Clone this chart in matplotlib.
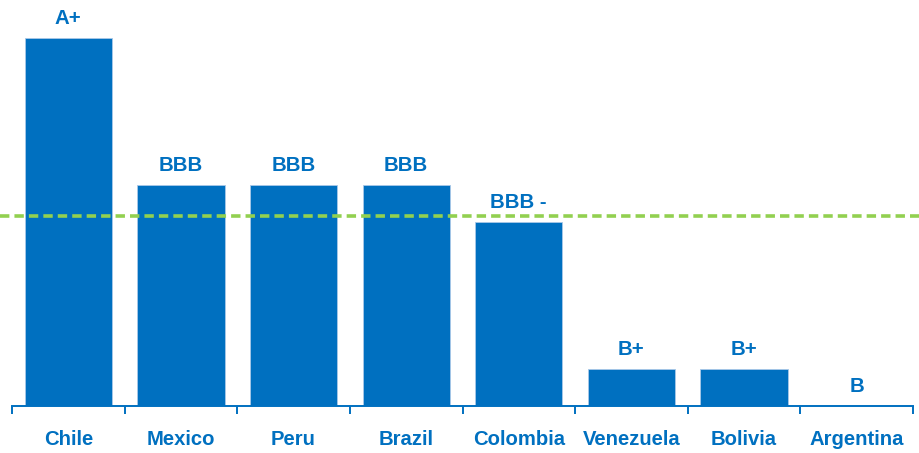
import matplotlib
matplotlib.use("Agg")
import matplotlib.pyplot as plt

countries = ["Chile", "Mexico", "Peru", "Brazil", "Colombia", "Venezuela", "Bolivia", "Argentina"]
ratings = ["A+", "BBB", "BBB", "BBB", "BBB -", "B+", "B+", "B"]
# notch scale: B = 0 ... A+ = 10
scores = [10, 6, 6, 6, 5, 1, 1, 0]
investment_grade = 5.15

blue = "#0070C0"
green = "#92D050"

plt.rcParams["font.family"] = ["Liberation Sans", "DejaVu Sans"]

fig = plt.figure(figsize=(9.19, 4.53), dpi=100)
ax = fig.add_axes([12 / 919, 47.3 / 453, 901 / 919, 405.7 / 453])

x = list(range(len(countries)))
ax.bar(x, scores, width=0.775, color=blue, edgecolor="#a9c8e8", linewidth=0.6, zorder=2)

ax.set_xlim(-0.5, len(countries) - 0.5)
ax.set_ylim(0, 405.7 / 36.8)

for xi, s, r in zip(x, scores, ratings):
    ax.annotate(r, (xi, s), xytext=(0, 9.7), textcoords="offset points",
                ha="center", va="baseline", color=blue, fontsize=14.7,
                fontweight="bold", zorder=4)

ax.axhline(investment_grade, xmin=-12 / 901, xmax=1 + 6 / 901, color=green,
           linewidth=2.6, dashes=(2.6, 1.4), clip_on=False, zorder=3)

for side in ["top", "right", "left"]:
    ax.spines[side].set_visible(False)
ax.spines["bottom"].set_color(blue)
ax.spines["bottom"].set_linewidth(1.4)

ax.set_yticks([])
ax.set_xticks(x)
ax.set_xticklabels(countries, fontsize=14.6, fontweight="bold", color=blue)
ax.tick_params(axis="x", which="major", length=0, pad=17.5)
ax.set_xticks([i - 0.5 for i in range(len(countries) + 1)], minor=True)
ax.tick_params(axis="x", which="minor", length=6, width=1.4, color=blue)

fig.savefig("out.png", dpi=100)
